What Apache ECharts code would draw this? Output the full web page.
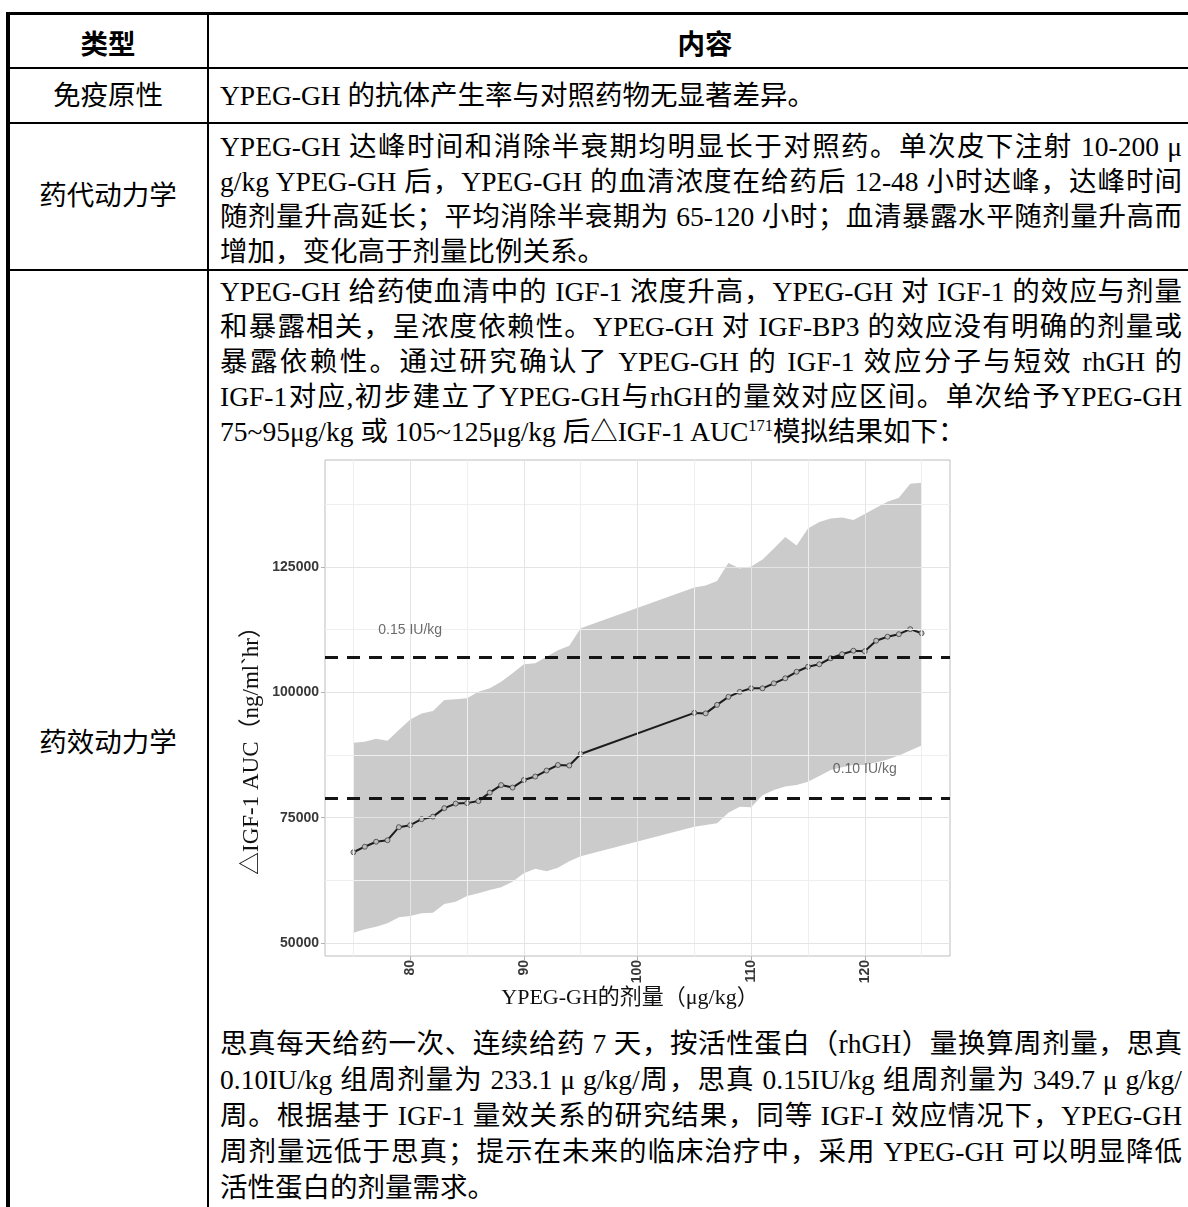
<!DOCTYPE html>
<html>
<head>
<meta charset="utf-8">
<script src="https://cdn.jsdelivr.net/npm/echarts@6.0.0/dist/echarts.min.js"></script>
<style>
html,body{margin:0;padding:0;background:#fff;}
#page{position:relative;width:1188px;height:1207px;overflow:hidden;background:#fff;
  font-family:"Liberation Serif","Noto Sans CJK SC",serif;color:#000;}
.hl{position:absolute;background:#000;}
.ln{position:absolute;left:220px;width:962px;height:36px;line-height:36px;font-size:27.5px;white-space:normal;}
.j{text-align:justify;text-align-last:justify;}
.lab{position:absolute;left:8px;width:200px;height:36px;line-height:36px;font-size:27.5px;text-align:center;}
.hd{position:absolute;height:36px;line-height:36px;font-size:27.5px;font-weight:bold;text-align:center;font-family:"Noto Sans CJK SC",sans-serif;}
sup{font-size:0.6em;vertical-align:0.6em;line-height:0;}
#chart{position:absolute;left:0;top:0;width:1188px;height:1207px;}
</style>
</head>
<body>
<div id="page">
  <!-- table rules -->
  <div class="hl" style="left:6px;top:12px;width:1182px;height:3px;"></div>
  <div class="hl" style="left:6px;top:12px;width:4px;height:1195px;"></div>
  <div class="hl" style="left:207px;top:12px;width:2px;height:1195px;"></div>
  <div class="hl" style="left:6px;top:67px;width:1182px;height:2px;"></div>
  <div class="hl" style="left:6px;top:122px;width:1182px;height:2px;"></div>
  <div class="hl" style="left:6px;top:269px;width:1182px;height:2px;"></div>

  <!-- header -->
  <div class="hd" style="left:8px;width:200px;top:24px;">类型</div>
  <div class="hd" style="left:209px;width:992px;top:24px;">内容</div>

  <!-- row 1 -->
  <div class="lab" style="top:78px;">免疫原性</div>
  <div class="ln" style="top:78px;">YPEG-GH 的抗体产生率与对照药物无显著差异。</div>

  <!-- row 2 -->
  <div class="lab" style="top:178px;">药代动力学</div>
  <div class="ln j" style="top:129px;">YPEG-GH 达峰时间和消除半衰期均明显长于对照药。单次皮下注射 10-200 μ</div>
  <div class="ln j" style="top:164px;">g/kg YPEG-GH 后，YPEG-GH 的血清浓度在给药后 12-48 小时达峰，达峰时间</div>
  <div class="ln j" style="top:199px;">随剂量升高延长；平均消除半衰期为 65-120 小时；血清暴露水平随剂量升高而</div>
  <div class="ln" style="top:234px;">增加，变化高于剂量比例关系。</div>

  <!-- row 3 -->
  <div class="lab" style="top:725px;">药效动力学</div>
  <div class="ln j" style="top:274px;">YPEG-GH 给药使血清中的 IGF-1 浓度升高，YPEG-GH 对 IGF-1 的效应与剂量</div>
  <div class="ln j" style="top:309px;">和暴露相关，呈浓度依赖性。YPEG-GH 对 IGF-BP3 的效应没有明确的剂量或</div>
  <div class="ln j" style="top:344px;">暴露依赖性。通过研究确认了 YPEG-GH 的 IGF-1 效应分子与短效 rhGH 的</div>
  <div class="ln j" style="top:379px;">IGF-1对应,初步建立了YPEG-GH与rhGH的量效对应区间。单次给予YPEG-GH</div>
  <div class="ln" style="top:414px;">75~95μg/kg 或 105~125μg/kg 后△IGF-1 AUC<sup>171</sup>模拟结果如下：</div>

  <div class="ln j" style="top:1026px;">思真每天给药一次、连续给药 7 天，按活性蛋白（rhGH）量换算周剂量，思真</div>
  <div class="ln j" style="top:1062px;">0.10IU/kg 组周剂量为 233.1 μ g/kg/周，思真 0.15IU/kg 组周剂量为 349.7 μ g/kg/</div>
  <div class="ln j" style="top:1098px;">周。根据基于 IGF-1 量效关系的研究结果，同等 IGF-I 效应情况下，YPEG-GH</div>
  <div class="ln j" style="top:1134px;">周剂量远低于思真；提示在未来的临床治疗中，采用 YPEG-GH 可以明显降低</div>
  <div class="ln" style="top:1170px;">活性蛋白的剂量需求。</div>

  <div id="chart"></div>
</div>
<script>
// ---- data ----
var doses = [75, 76, 77, 78, 79, 80, 81, 82, 83, 84, 85, 86, 87, 88, 89, 90, 91, 92, 93, 94, 95,
             105, 106, 107, 108, 109, 110, 111, 112, 113, 114, 115, 116, 117, 118, 119, 120, 121, 122, 123, 124, 125];
var meanAUC = [68100, 69200, 70200, 70500, 73100, 73500, 74700, 75200, 76900, 77800, 77900, 78300, 80000, 81500, 81000, 82500, 83200, 84400, 85500, 85400, 87700,
               95900, 95800, 97500, 99100, 100100, 100800, 100800, 101800, 102800, 104100, 105100, 105600, 106800, 107600, 108300, 108200, 110300, 111100, 111600, 112600, 111800];
var upperAUC = [89950, 90150, 90750, 90350, 92480, 94600, 95800, 96300, 98460, 98600, 98800, 100120, 100800, 102110, 103790, 105590, 105790, 107100, 108400, 109300, 112800,
                120900, 121300, 122200, 125800, 124700, 125100, 126500, 128700, 131000, 129300, 132700, 134000, 134700, 134900, 134400, 135600, 136800, 138000, 138800, 141600, 141800];
var lowerAUC = [52060, 52740, 53260, 53930, 55130, 55390, 55930, 56050, 57790, 58240, 59380, 59910, 60580, 61120, 62230, 63900, 64800, 64300, 65000, 66300, 67300,
                73200, 73540, 73880, 76000, 77190, 77070, 79460, 80520, 81200, 81520, 82180, 83320, 84510, 85050, 85510, 85500, 86000, 86600, 87400, 88400, 89400];
var refLevels = [106900, 78900];
var refLabels = ['0.15 IU/kg', '0.10 IU/kg'];
var refLabelPos = [[80, 112500], [120, 84700]];
var xTicks = [80, 90, 100, 110, 120];
var xMinor = [75, 85, 95, 105, 115, 125];
var yTicks = [50000, 75000, 100000, 125000];
var yMinor = [62500, 87500, 112500, 137500];
var xTitle = 'YPEG-GH的剂量（μg/kg）';
var yTitle = '△IGF-1 AUC（ng/ml`hr）';

// ---- chart ----
var chart = echarts.init(document.getElementById('chart'), null, {renderer: 'canvas'});
var lab = {fontFamily: 'Liberation Sans', fontWeight: 'bold', fontSize: 14, color: '#383838'};
function gridLines(vals, key, color) {
  return vals.map(function (v) { var o = {}; o[key] = v; o.lineStyle = {color: color, width: 1, type: 'solid'}; return o; });
}
var option = {
  animation: false,
  backgroundColor: 'transparent',
  grid: {left: 325, top: 460, right: 238, bottom: 251, show: true, borderColor: '#bdbdbd', borderWidth: 1, backgroundColor: 'transparent'},
  xAxis: {
    type: 'value', min: 72.5, max: 127.5,
    axisLine: {show: false}, splitLine: {show: false},
    axisTick: {show: true, length: 4, lineStyle: {color: '#b3b3b3'}, customValues: xTicks},
    axisLabel: Object.assign({customValues: xTicks, rotate: 90, margin: 4, padding: [0, 0, 8, 0],
                              formatter: function (v) { return String(v); }}, lab)
  },
  yAxis: {
    type: 'value', min: 47400, max: 146350,
    axisLine: {show: false}, splitLine: {show: false},
    axisTick: {show: true, length: 4, lineStyle: {color: '#b3b3b3'}, customValues: yTicks},
    axisLabel: Object.assign({customValues: yTicks, margin: 6,
                              formatter: function (v) { return String(v); }}, lab)
  },
  graphic: [
    {type: 'text', x: 252, y: 745, rotation: Math.PI / 2,
     style: {text: yTitle, font: '23px "Liberation Serif", "Noto Sans CJK SC"', fill: '#111', align: 'center', verticalAlign: 'middle'}},
    {type: 'text', x: 630, y: 998,
     style: {text: xTitle, font: '22px "Liberation Serif", "Noto Sans CJK SC"', fill: '#111', align: 'center', verticalAlign: 'middle'}}
  ],
  series: [
    {
      type: 'line', data: [], silent: true, z: 0,
      markLine: {
        silent: true, symbol: ['none', 'none'], label: {show: false}, animation: false,
        data: [].concat(gridLines(xMinor, 'xAxis', '#efefef'), gridLines(yMinor, 'yAxis', '#efefef'),
                        gridLines(xTicks, 'xAxis', '#e4e4e4'), gridLines(yTicks, 'yAxis', '#e4e4e4'))
      }
    },
    {
      type: 'custom', z: 1, silent: true,
      data: doses.map(function (d, i) { return [d, lowerAUC[i], upperAUC[i]]; }),
      encode: {x: 0, y: [1, 2]},
      renderItem: function (params, api) {
        if (params.dataIndex !== 0) return null;
        var pts = [];
        for (var i = 0; i < doses.length; i++) pts.push(api.coord([doses[i], upperAUC[i]]));
        for (var k = doses.length - 1; k >= 0; k--) pts.push(api.coord([doses[k], lowerAUC[k]]));
        return {type: 'polygon', shape: {points: pts}, style: {fill: '#cbcbcb', stroke: null}};
      }
    },
    {
      type: 'line', data: [], silent: true, z: 3,
      markLine: {
        silent: true, symbol: ['none', 'none'], label: {show: false}, animation: false,
        lineStyle: {color: '#141414', width: 3, type: [13, 9]},
        data: refLevels.map(function (v) { return {yAxis: v}; })
      }
    },
    {
      type: 'line', z: 4, silent: true,
      data: doses.map(function (d, i) { return [d, meanAUC[i]]; }),
      lineStyle: {color: '#1c1c1c', width: 2},
      symbol: 'circle', symbolSize: 5,
      itemStyle: {color: '#bcbcbc', borderColor: '#404040', borderWidth: 0.8}
    },
    {
      type: 'scatter', z: 5, silent: true, symbolSize: 0,
      data: refLabelPos.map(function (p, i) { return {value: p, name: refLabels[i]}; }),
      label: {show: true, position: 'inside', formatter: '{b}', fontFamily: 'Liberation Sans', fontSize: 14, color: '#474747'}
    }
  ]
};
chart.setOption(option);
</script>
</body>
</html>
